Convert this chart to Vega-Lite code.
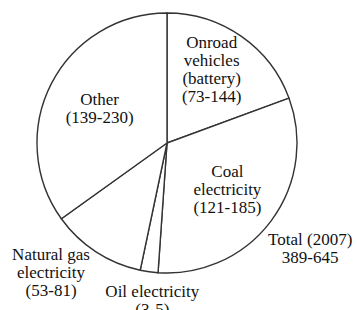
{
  "$schema": "https://vega.github.io/schema/vega-lite/v6.json",
  "width": 260,
  "height": 260,
  "autosize": "none",
  "padding": {"left": 37, "top": 13, "right": 60, "bottom": 37},
  "background": "white",
  "config": {"view": {"stroke": null}, "text": {"font": "Liberation Serif", "fontSize": 17, "lineHeight": 18, "lineBreak": "\n", "color": "#111111", "align": "center", "baseline": "middle"}},
  "data": {
    "values": [
      {"rank": 1, "source": "Onroad vehicles (battery)", "label": "Onroad\nvehicles\n(battery)\n(73-144)", "share": 19.4},
      {"rank": 2, "source": "Coal electricity", "label": "Coal\nelectricity\n(121-185)", "share": 31.7},
      {"rank": 3, "source": "Oil electricity", "label": "Oil electricity\n(3-5)", "share": 2.2},
      {"rank": 4, "source": "Natural gas electricity", "label": "Natural gas\nelectricity\n(53-81)", "share": 11.8},
      {"rank": 5, "source": "Other", "label": "Other\n(139-230)", "share": 34.9}
    ]
  },
  "encoding": {
    "theta": {"field": "share", "type": "quantitative", "stack": true},
    "order": {"field": "rank", "type": "quantitative"}
  },
  "layer": [
    {
      "mark": {"type": "arc", "outerRadius": 130, "fill": "white", "stroke": "#333333", "strokeWidth": 1.4}
    },
    {
      "mark": {"type": "text", "radius": 78, "dy": -36},
      "encoding": {"text": {"condition": {"test": "datum.rank == 1", "field": "label"}, "value": ""}}
    },
    {
      "mark": {"type": "text", "radius": 78, "dx": -2, "dy": -18},
      "encoding": {"text": {"condition": {"test": "datum.rank == 2", "field": "label"}, "value": ""}}
    },
    {
      "mark": {"type": "text", "radius": 150, "dx": 6, "dy": 0},
      "encoding": {"text": {"condition": {"test": "datum.rank == 3", "field": "label"}, "value": ""}}
    },
    {
      "mark": {"type": "text", "radius": 150, "dx": -34, "dy": -14},
      "encoding": {"text": {"condition": {"test": "datum.rank == 4", "field": "label"}, "value": ""}}
    },
    {
      "mark": {"type": "text", "radius": 78, "dx": 2, "dy": -7},
      "encoding": {"text": {"condition": {"test": "datum.rank == 5", "field": "label"}, "value": ""}}
    },
    {
      "data": {"values": [{"label": "Total (2007)\n389-645"}]},
      "mark": {"type": "text", "theta": 2.194, "radius": 180, "dx": -3, "dy": -8},
      "encoding": {"text": {"field": "label"}, "theta": null, "order": null}
    }
  ]
}
